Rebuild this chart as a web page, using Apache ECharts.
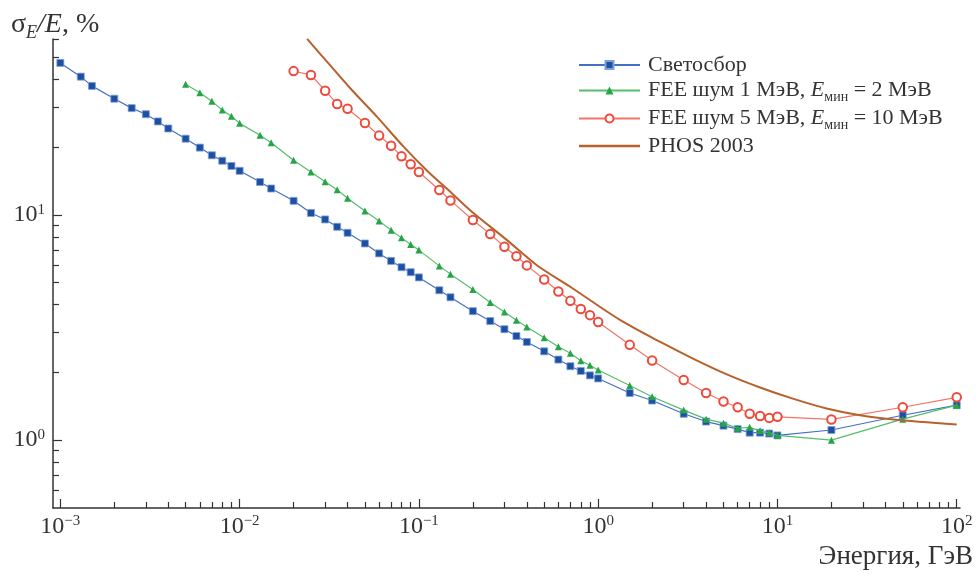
<!DOCTYPE html>
<html>
<head>
<meta charset="utf-8">
<script src="https://cdn.jsdelivr.net/npm/echarts@6/dist/echarts.min.js"></script>
<style>
  html, body { margin: 0; padding: 0; background: #fff; }
  #main { width: 978px; height: 574px; }
</style>
</head>
<body>
<div id="main"></div>
<script>
// энергии, ГэВ
var eBlue = [0.001, 0.0013, 0.0015, 0.002, 0.0025, 0.003, 0.0035, 0.004, 0.005, 0.006, 0.007, 0.008, 0.009,
  0.01, 0.013, 0.015, 0.02, 0.025, 0.03, 0.035, 0.04, 0.05, 0.06, 0.07, 0.08, 0.09,
  0.1, 0.13, 0.15, 0.2, 0.25, 0.3, 0.35, 0.4, 0.5, 0.6, 0.7, 0.8, 0.9,
  1, 1.5, 2, 3, 4, 5, 6, 7, 8, 9, 10, 20, 50, 100];
var sBlue = [47.3, 41.1, 37.4, 32.8, 29.8, 28.0, 26.0, 24.2, 21.8, 19.9, 18.4, 17.4, 16.5,
  15.7, 14.0, 13.1, 11.55, 10.2, 9.55, 8.86, 8.33, 7.47, 6.75, 6.25, 5.86, 5.57,
  5.28, 4.63, 4.31, 3.74, 3.38, 3.11, 2.90, 2.73, 2.48, 2.28, 2.13, 2.03, 1.94,
  1.88, 1.62, 1.50, 1.31, 1.21, 1.16, 1.12, 1.08, 1.08, 1.07, 1.05, 1.11, 1.29, 1.43];

var eGreen = [0.005, 0.006, 0.007, 0.008, 0.009,
  0.01, 0.013, 0.015, 0.02, 0.025, 0.03, 0.035, 0.04, 0.05, 0.06, 0.07, 0.08, 0.09,
  0.1, 0.13, 0.15, 0.2, 0.25, 0.3, 0.35, 0.4, 0.5, 0.6, 0.7, 0.8, 0.9,
  1, 1.5, 2, 3, 4, 5, 6, 7, 8, 9, 10, 20, 50, 100];
var sGreen = [38.0, 34.9, 32.0, 29.2, 27.4,
  25.5, 22.6, 20.9, 17.5, 15.5, 14.05, 12.95, 11.85, 10.4, 9.39, 8.56, 7.91, 7.39,
  6.98, 5.94, 5.46, 4.67, 4.09, 3.71, 3.41, 3.18, 2.85, 2.60, 2.43, 2.25, 2.15,
  2.05, 1.75, 1.56, 1.36, 1.24, 1.19, 1.13, 1.14, 1.10, 1.08, 1.05, 1.00, 1.24, 1.43];

var eRed = [0.02, 0.025, 0.03, 0.035, 0.04, 0.05, 0.06, 0.07, 0.08, 0.09,
  0.1, 0.13, 0.15, 0.2, 0.25, 0.3, 0.35, 0.4, 0.5, 0.6, 0.7, 0.8, 0.9,
  1, 1.5, 2, 3, 4, 5, 6, 7, 8, 9, 10, 20, 50, 100];
var sRed = [43.5, 41.8, 35.6, 31.1, 29.6, 25.6, 22.5, 20.3, 18.2, 16.8,
  15.5, 12.9, 11.6, 9.49, 8.22, 7.22, 6.56, 5.97, 5.17, 4.57, 4.16, 3.82, 3.59,
  3.35, 2.65, 2.26, 1.85, 1.62, 1.485, 1.40, 1.31, 1.28, 1.256, 1.27, 1.236, 1.40, 1.55];

var ePhos = [0.0238, 0.0307, 0.0414, 0.0583, 0.0821, 0.113, 0.146, 0.193, 0.31, 0.455, 0.698,
  1.33, 2.22, 3.47, 5.22, 8.0, 12.3, 18.8, 28.9, 44.3, 100];
var sPhos = [60.5, 47.9, 36.5, 27.3, 20.1, 15.5, 12.9, 10.5, 7.73, 5.98, 4.80,
  3.41, 2.73, 2.28, 1.96, 1.714, 1.525, 1.383, 1.29, 1.236, 1.174];

var seriesNames = ['Светосбор', 'FEE шум 1 МэВ, E_мин = 2 МэВ', 'FEE шум 5 МэВ, E_мин = 10 МэВ', 'PHOS 2003'];

// деления осей
var xLabelValues = [0.001, 0.01, 0.1, 1, 10, 100];
var xLabelExps = ['−3', '−2', '−1', '0', '1', '2'];
var yLabelValues = [1, 10];
var yLabelExps = ['0', '1'];
var xMinor = [];
xLabelValues.slice(0, 5).forEach(function (d) {
  for (var k = 2; k <= 9; k++) xMinor.push(+(k * d).toPrecision(3));
});
var yMinor = [0.6, 0.7, 0.8, 0.9, 2, 3, 4, 5, 6, 7, 8, 9, 20, 30, 40, 50, 60];

var FONT = '"Liberation Serif", "Times New Roman", serif';
var INK = '#333';

function pairs(xs, ys) {
  return xs.map(function (x, i) { return [x, ys[i]]; });
}
function powLabel(values, exps) {
  return function (v) {
    var i = values.findIndex(function (t) { return Math.abs(t - v) / t < 1e-6; });
    return '{b|10}{e|' + (i >= 0 ? exps[i] : '') + '}';
  };
}
var powRich = {
  b: { fontFamily: FONT, fontSize: 24, color: INK, lineHeight: 25 },
  e: { fontFamily: FONT, fontSize: 15, color: INK, lineHeight: 15, verticalAlign: 'top' }
};

var X_MIN = 0.00091, X_MAX = 104.3, Y_MIN = 0.5, Y_MAX = 60.4;

var chart = echarts.init(document.getElementById('main'), null, { renderer: 'canvas' });

var option = {
  backgroundColor: '#fff',
  animation: false,
  grid: { left: 53, right: 18, top: 39, bottom: 66, containLabel: false, outerBoundsMode: 'none' },
  legend: {
    orient: 'vertical',
    left: 578,
    top: 54,
    padding: 0,
    itemWidth: 61,
    itemHeight: 10,
    itemGap: 3,
    data: [
      { name: seriesNames[0] },
      { name: seriesNames[1] },
      { name: seriesNames[2] },
      { name: seriesNames[3], icon: 'path://M0,0L61,0L61,2.4L0,2.4Z' }
    ],
    formatter: function (name) {
      var p = name.split('E_мин');
      if (p.length === 1) return '{g|}{n|' + name + '}';
      return '{g|}{n|' + p[0] + '}{i|E}{s|мин}{n|' + p[1] + '}';
    },
    textStyle: {
      fontFamily: FONT, fontSize: 22, color: INK,
      rich: {
        g: { width: 3 },
        n: { fontFamily: FONT, fontSize: 22, color: INK, lineHeight: 23 },
        i: { fontFamily: FONT, fontSize: 22, color: INK, lineHeight: 23, fontStyle: 'italic' },
        s: { fontFamily: FONT, fontSize: 14, color: INK, lineHeight: 14, verticalAlign: 'top', padding: [11, 0, 0, 0] }
      }
    }
  },
  xAxis: [{
    type: 'log', logBase: 10, min: X_MIN, max: X_MAX, position: 'bottom',
    axisLine: { onZero: false, lineStyle: { color: INK, width: 1.5 } },
    axisTick: { inside: true, length: 9, lineStyle: { color: INK, width: 1.2 }, customValues: xLabelValues },
    axisLabel: { margin: 6, customValues: xLabelValues, formatter: powLabel(xLabelValues, xLabelExps), rich: powRich },
    splitLine: { show: false }
  }, {
    type: 'log', logBase: 10, min: X_MIN, max: X_MAX, position: 'bottom',
    axisLine: { show: false, onZero: false },
    axisTick: { inside: true, length: 6, lineStyle: { color: INK, width: 1.2 }, customValues: xMinor },
    axisLabel: { show: false },
    splitLine: { show: false }
  }],
  yAxis: [{
    type: 'log', logBase: 10, min: Y_MIN, max: Y_MAX, position: 'left',
    axisLine: { onZero: false, lineStyle: { color: INK, width: 1.5 } },
    axisTick: { inside: true, length: 9, lineStyle: { color: INK, width: 1.2 }, customValues: yLabelValues },
    axisLabel: { margin: 8, customValues: yLabelValues, formatter: powLabel(yLabelValues, yLabelExps), rich: powRich },
    splitLine: { show: false }
  }, {
    type: 'log', logBase: 10, min: Y_MIN, max: Y_MAX, position: 'left',
    axisLine: { show: false, onZero: false },
    axisTick: { inside: true, length: 6, lineStyle: { color: INK, width: 1.2 }, customValues: yMinor },
    axisLabel: { show: false },
    splitLine: { show: false }
  }],
  graphic: [{
    type: 'text', left: 11, top: 10,
    style: {
      text: '{n|σ}{s|E}{i|/E}{n|, %}',
      rich: {
        n: { fontFamily: FONT, fontSize: 28, fill: INK, lineHeight: 29 },
        i: { fontFamily: FONT, fontSize: 28, fill: INK, lineHeight: 29, fontStyle: 'italic' },
        s: { fontFamily: FONT, fontSize: 18, fill: INK, lineHeight: 18, fontStyle: 'italic', verticalAlign: 'top', padding: [14, 0, 0, 0] }
      }
    }
  }, {
    type: 'text', right: 5, top: 543,
    style: { text: 'Энергия, ГэВ', fontFamily: FONT, fontSize: 27, fill: INK }
  }],
  series: [{
    name: seriesNames[0], type: 'line', data: pairs(eBlue, sBlue),
    symbol: 'rect', symbolSize: 7,
    lineStyle: { color: '#4470c4', width: 1.2 },
    itemStyle: { color: '#1d4fa2', borderColor: '#7d9fd8', borderWidth: 0.8 },
    z: 3
  }, {
    name: seriesNames[1], type: 'line', data: pairs(eGreen, sGreen),
    symbol: 'triangle', symbolSize: 7,
    lineStyle: { color: '#55bd6c', width: 1.2 },
    itemStyle: { color: '#25a546' },
    z: 4
  }, {
    name: seriesNames[2], type: 'line', data: pairs(eRed, sRed),
    symbol: 'emptyCircle', symbolSize: 8.5,
    lineStyle: { color: '#f27466', width: 1.2 },
    itemStyle: { color: '#ee4a3c', borderWidth: 1.2 },
    z: 5
  }, {
    name: seriesNames[3], type: 'line', data: pairs(ePhos, sPhos),
    symbol: 'none', smooth: 0.3, clip: true,
    lineStyle: { color: '#b8612b', width: 2 },
    itemStyle: { color: '#b8612b' },
    z: 6
  }]
};

chart.setOption(option);
</script>
</body>
</html>
